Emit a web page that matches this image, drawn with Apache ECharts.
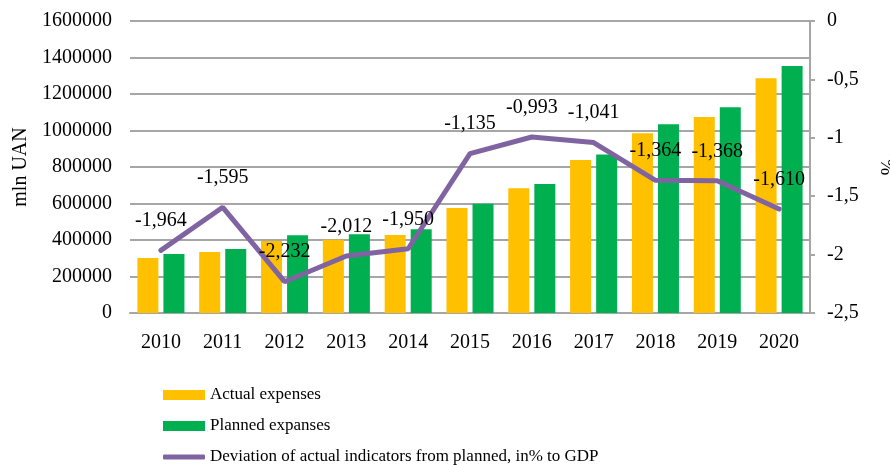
<!DOCTYPE html>
<html>
<head>
<meta charset="utf-8">
<script src="https://cdn.jsdelivr.net/npm/echarts@6/dist/echarts.min.js"></script>
<style>
  html, body { margin: 0; padding: 0; background: #fff; }
  #chart { width: 890px; height: 465px; }
</style>
</head>
<body>
<div id="chart"></div>
<script>
// data
var years = ['2010', '2011', '2012', '2013', '2014', '2015', '2016', '2017', '2018', '2019', '2020'];
var actualExpenses = [301000, 334000, 394000, 402000, 427000, 576000, 683000, 838000, 985000, 1074000, 1286000];
var plannedExpenses = [323000, 351000, 426000, 431000, 459000, 599000, 707000, 869000, 1034000, 1127000, 1353000];
var deviation = [-1.964, -1.595, -2.232, -2.012, -1.950, -1.135, -0.993, -1.041, -1.364, -1.368, -1.610];

var font = 'Liberation Serif';
var gridColor = '#a6a6a6';
var lineName = 'Deviation of actual indicators from planned, in% to GDP';

var myChart = echarts.init(document.getElementById('chart'));

function comma(v) {
	return String(v).replace('.', ',');
}

var legendText = { fontFamily: font, fontSize: 17, lineHeight: 18, color: '#000' };

var option = {
	animation: false,
	textStyle: { fontFamily: font, color: '#000' },
	grid: { left: 130, right: 80, top: 21, bottom: 152, outerBoundsMode: 'none', containLabel: false },
	legend: [{
		orient: 'vertical',
		left: 163,
		top: 386,
		padding: 0,
		itemWidth: 42,
		itemHeight: 10,
		itemGap: 13,
		textStyle: legendText,
		data: [
			{ name: 'Actual expenses', icon: 'rect' },
			{ name: 'Planned expanses', icon: 'rect' }
		]
	}, {
		orient: 'vertical',
		left: 163,
		top: 448,
		padding: 0,
		itemWidth: 42,
		itemHeight: 5,
		textStyle: legendText,
		data: [{ name: lineName, icon: 'roundRect' }]
	}],
	xAxis: {
		type: 'category',
		data: years,
		axisLine: { lineStyle: { color: gridColor, width: 2 } },
		axisTick: { show: false },
		axisLabel: { fontFamily: font, fontSize: 20, color: '#000', margin: 20 }
	},
	yAxis: [{
		type: 'value',
		min: 0,
		max: 1600000,
		interval: 200000,
		name: 'mln UAN',
		nameLocation: 'middle',
		nameGap: 99,
		nameRotate: 90,
		nameTextStyle: { fontFamily: font, fontSize: 20, color: '#000' },
		axisLine: { show: false },
		axisTick: { show: false },
		axisLabel: { fontFamily: font, fontSize: 20, color: '#000', margin: 18, formatter: function (v) { return String(v); } },
		splitLine: { lineStyle: { color: gridColor, width: 2 } }
	}, {
		type: 'value',
		min: -2.5,
		max: 0,
		interval: 0.5,
		position: 'right',
		name: '%',
		nameLocation: 'middle',
		nameGap: 66,
		nameRotate: -90,
		nameTextStyle: { fontFamily: font, fontSize: 20, color: '#000' },
		axisLine: { show: true, lineStyle: { color: gridColor, width: 2 } },
		axisTick: { show: true, length: 5, lineStyle: { color: gridColor, width: 2 } },
		axisLabel: { fontFamily: font, fontSize: 20, color: '#000', margin: 17, formatter: comma },
		splitLine: { show: false }
	}],
	series: [{
		name: 'Actual expenses',
		type: 'bar',
		data: actualExpenses,
		barWidth: 21,
		barGap: '24%',
		itemStyle: { color: '#ffc000' }
	}, {
		name: 'Planned expanses',
		type: 'bar',
		data: plannedExpenses,
		barWidth: 21,
		barGap: '24%',
		itemStyle: { color: '#00b050' }
	}, {
		name: lineName,
		type: 'line',
		yAxisIndex: 1,
		data: deviation,
		symbol: 'circle',
		symbolSize: 1,
		showSymbol: true,
		lineStyle: { color: '#8064a2', width: 5, cap: 'round' },
		itemStyle: { color: '#8064a2' },
		label: {
			show: true,
			position: 'top',
			distance: 19,
			fontFamily: font,
			fontSize: 20,
			color: '#000',
			formatter: function (p) { return comma(p.value.toFixed(3)); }
		},
		labelLayout: { hideOverlap: false },
		z: 5
	}]
};

myChart.setOption(option);
</script>
</body>
</html>
